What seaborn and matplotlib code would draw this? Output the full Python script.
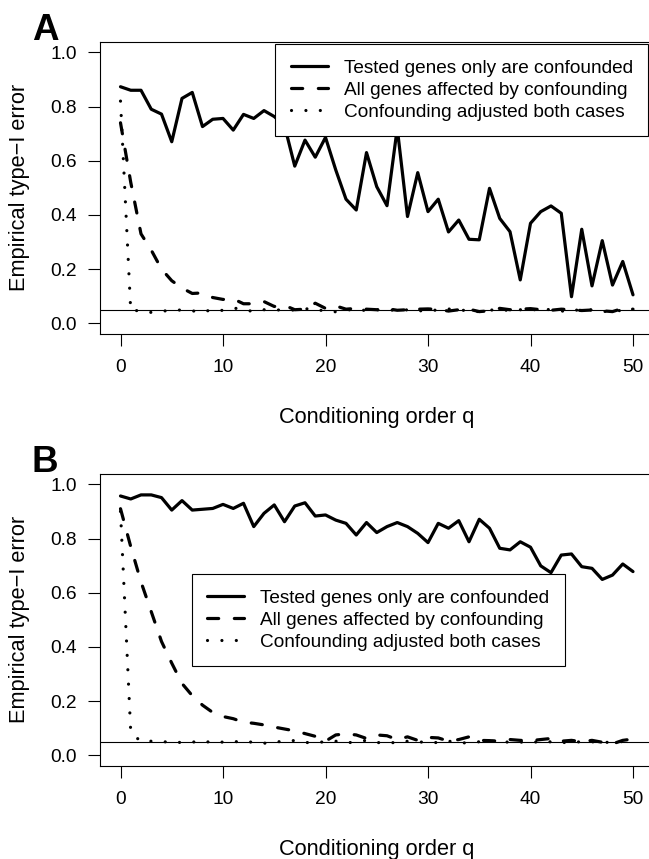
import numpy as np
import pandas as pd
import matplotlib
matplotlib.use("Agg")
import matplotlib.pyplot as plt
import seaborn as sns
from matplotlib.lines import Line2D

# ---------------- data ----------------
q = list(range(51))

series_labels = ["Tested genes only are confounded",
                 "All genes affected by confounding",
                 "Confounding adjusted both cases"]

A_tested = [0.873, 0.860, 0.860, 0.790, 0.772, 0.670, 0.830, 0.852, 0.726, 0.753,
            0.756, 0.713, 0.771, 0.756, 0.785, 0.763, 0.730, 0.580, 0.676, 0.613,
            0.686, 0.566, 0.458, 0.418, 0.630, 0.504, 0.434, 0.720, 0.394, 0.556,
            0.412, 0.458, 0.337, 0.381, 0.310, 0.308, 0.498, 0.387, 0.338, 0.160,
            0.369, 0.412, 0.433, 0.406, 0.098, 0.347, 0.138, 0.305, 0.141, 0.228,
            0.105]
A_all = [0.74, 0.52, 0.33, 0.27, 0.20, 0.157, 0.13, 0.11, 0.112, 0.095,
         0.088, 0.090, 0.072, 0.072, 0.080, 0.062, 0.066, 0.050, 0.052, 0.074,
         0.055, 0.064, 0.052, 0.055, 0.052, 0.050, 0.054, 0.048, 0.050, 0.052,
         0.053, 0.051, 0.045, 0.050, 0.052, 0.043, 0.046, 0.055, 0.050, 0.052,
         0.054, 0.050, 0.048, 0.052, 0.050, 0.047, 0.049, 0.046, 0.043, 0.055,
         0.052]
A_adj = [0.82, 0.045, 0.048, 0.040, 0.046, 0.045, 0.050, 0.046, 0.040, 0.052,
         0.047, 0.056, 0.052, 0.042, 0.050, 0.047, 0.052, 0.048, 0.055, 0.045,
         0.050, 0.042, 0.048, 0.053, 0.046, 0.050, 0.045, 0.052, 0.049, 0.044,
         0.051, 0.047, 0.053, 0.046, 0.050, 0.042, 0.048, 0.052, 0.046, 0.050,
         0.045, 0.058, 0.048, 0.044, 0.052, 0.045, 0.050, 0.042, 0.048, 0.046,
         0.050]

B_tested = [0.957, 0.946, 0.961, 0.961, 0.951, 0.905, 0.940, 0.905, 0.908, 0.911,
            0.926, 0.911, 0.930, 0.844, 0.893, 0.924, 0.862, 0.920, 0.932, 0.883,
            0.887, 0.868, 0.856, 0.813, 0.859, 0.822, 0.844, 0.859, 0.844, 0.819,
            0.785, 0.856, 0.838, 0.866, 0.788, 0.871, 0.838, 0.764, 0.758, 0.788,
            0.768, 0.699, 0.674, 0.739, 0.743, 0.696, 0.690, 0.649, 0.665, 0.706,
            0.678]
B_all = [0.91, 0.77, 0.64, 0.53, 0.42, 0.34, 0.265, 0.22, 0.185, 0.158,
         0.143, 0.135, 0.122, 0.118, 0.112, 0.104, 0.097, 0.090, 0.080, 0.070,
         0.052, 0.075, 0.079, 0.075, 0.062, 0.075, 0.072, 0.058, 0.068, 0.055,
         0.066, 0.064, 0.052, 0.058, 0.068, 0.055, 0.054, 0.052, 0.058, 0.055,
         0.054, 0.058, 0.062, 0.052, 0.055, 0.050, 0.055, 0.048, 0.042, 0.055,
         0.060]
B_adj = [0.90, 0.085, 0.050, 0.052, 0.048, 0.052, 0.046, 0.050, 0.044, 0.054,
         0.048, 0.052, 0.046, 0.050, 0.044, 0.052, 0.048, 0.055, 0.046, 0.050,
         0.048, 0.052, 0.045, 0.050, 0.055, 0.046, 0.050, 0.044, 0.052, 0.048,
         0.050, 0.046, 0.052, 0.048, 0.044, 0.050, 0.054, 0.046, 0.050, 0.048,
         0.052, 0.046, 0.050, 0.045, 0.052, 0.048, 0.050, 0.044, 0.052, 0.050,
         0.055]

x_ticks = [0, 10, 20, 30, 40, 50]
y_ticks = [0.0, 0.2, 0.4, 0.6, 0.8, 1.0]
nominal_level = 0.05

# ---------------- style ----------------
sns.set_theme(style="white")
plt.rcParams["font.family"] = ["Liberation Sans", "DejaVu Sans"]
plt.rcParams["text.color"] = "black"
plt.rcParams["axes.labelcolor"] = "black"

W, H = 649, 859
fig = plt.figure(figsize=(W / 100, H / 100), dpi=100)

LW = 2.3
styles = [
    dict(linestyle="-"),
    dict(linestyle=(0, (3.5, 4.9)), dash_capstyle="round"),
    dict(linestyle=(0, (0.01, 4.5)), dash_capstyle="round"),
]


def px_axes(left, top, right, bottom):
    return fig.add_axes([left / W, 1 - bottom / H, (right - left) / W, (bottom - top) / H])


def panel(ax, tested, allg, adj):
    for vals, lab, st in zip([tested, allg, adj], series_labels, styles):
        df = pd.DataFrame({"q": q, "err": vals})
        sns.lineplot(data=df, x="q", y="err", ax=ax, color="black", linewidth=LW,
                     errorbar=None, label=lab, legend=False, **st)
    ax.axhline(nominal_level, color="black", lw=0.8)
    ax.set_xlim(-2, 52)
    ax.set_ylim(-0.04, 1.04)
    ax.set_xticks(x_ticks)
    ax.set_yticks(y_ticks)
    ax.set_yticklabels([f"{v:.1f}" for v in y_ticks])
    ax.set_xlabel("")
    ax.set_ylabel("")
    ax.tick_params(axis="both", direction="out", length=8.6, width=0.8,
                   colors="black", labelsize=13.8, bottom=True, left=True)
    ax.tick_params(axis="x", pad=9)
    ax.tick_params(axis="y", pad=7.9)
    for s in ax.spines.values():
        s.set_color("black")
        s.set_linewidth(0.8)
    ax.grid(False)


def make_legend(ax, loc, anchor_px):
    handles = [Line2D([0], [0], color="black", linewidth=LW, **st) for st in styles]
    leg = ax.legend(handles, series_labels, loc=loc,
                    bbox_to_anchor=(anchor_px[0] / W, 1 - anchor_px[1] / H),
                    bbox_transform=fig.transFigure, frameon=True, fancybox=False,
                    edgecolor="black", framealpha=1, borderpad=0.8,
                    handlelength=1.95, handletextpad=0.84, labelspacing=0.26,
                    fontsize=13.7, borderaxespad=0)
    leg.get_frame().set_linewidth(0.8)
    return leg


axA = px_axes(100, 41.5, 653.5, 334.1)
panel(axA, A_tested, A_all, A_adj)
make_legend(axA, "upper right", (648, 44))

axB = px_axes(100, 473.5, 653.5, 766.1)
panel(axB, B_tested, B_all, B_adj)
make_legend(axB, "upper left", (192, 574))

# labels
for top, bottom, letter, xl_base in [(41.5, 334.1, "A", 423), (473.5, 766.1, "B", 855)]:
    fig.text(32 / W, 1 - (top - 1.5) / H, letter, fontsize=26.5, fontweight="bold",
             ha="left", va="baseline")
    fig.text(376.8 / W, 1 - xl_base / H, "Conditioning order q", fontsize=15.7,
             ha="center", va="baseline")
    fig.text(25 / W, 1 - ((top + bottom) / 2) / H, "Empirical type\u2212I error",
             fontsize=15.7, rotation=90, rotation_mode="anchor",
             ha="center", va="baseline")

fig.savefig("out.png", dpi=100)
